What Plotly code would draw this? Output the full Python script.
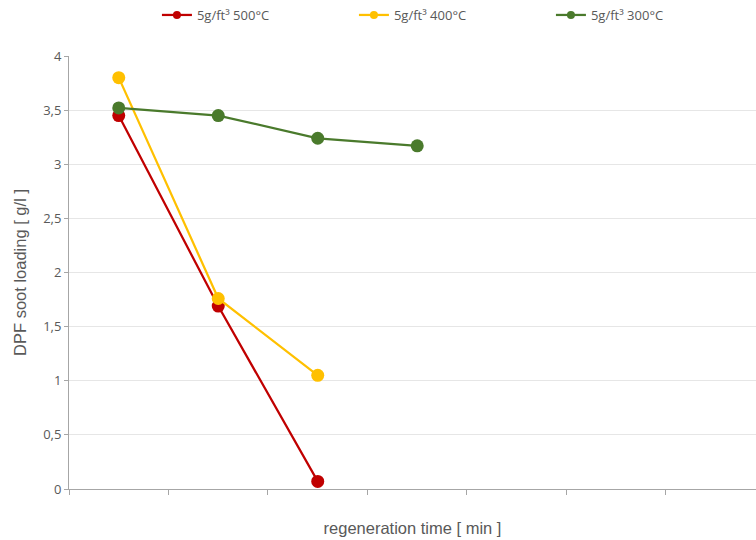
import plotly.graph_objects as go

# Soot loading measured at successive regeneration steps
steps = [0.5, 1.5, 2.5, 3.5]
soot_500 = [3.45, 1.69, 0.07]
soot_400 = [3.80, 1.76, 1.05]
soot_300 = [3.52, 3.45, 3.24, 3.17]

series = [
    ("5g/ft³ 500°C", soot_500, "#C00000"),
    ("5g/ft³ 400°C", soot_400, "#FFC000"),
    ("5g/ft³ 300°C", soot_300, "#4A7A2C"),
]

y_ticks = [0, 0.5, 1, 1.5, 2, 2.5, 3, 3.5, 4]
x_ticks = [0, 1, 2, 3, 4, 5, 6]

grey = "#595959"
font = "Open Sans, Noto Sans, sans-serif"
title_font = "Liberation Sans, Arial, sans-serif"

fig = go.Figure()
for name, vals, color in series:
    fig.add_trace(go.Scatter(
        x=steps[:len(vals)], y=vals, name=name, mode="lines+markers",
        line=dict(color=color, width=2.25),
        marker=dict(color=color, size=13),
        showlegend=False,
    ))
# legend entries with smaller symbols
for name, vals, color in series:
    fig.add_trace(go.Scatter(
        x=[None], y=[None], name=name, mode="lines+markers",
        line=dict(color=color, width=2.25),
        marker=dict(color=color, size=8),
        showlegend=True,
    ))

fig.update_layout(
    width=756, height=540,
    margin=dict(l=69, r=0, t=55, b=51),
    paper_bgcolor="white", plot_bgcolor="white",
    separators=",.",
    font=dict(family=font, color=grey, size=12),
    showlegend=True,
    legend=dict(
        orientation="h", x=0.128, xanchor="left", y=1.13, yanchor="top",
        entrywidth=152, entrywidthmode="pixels",
        font=dict(size=13, color=grey), itemwidth=30,
        traceorder="normal", bgcolor="rgba(0,0,0,0)",
    ),
    xaxis=dict(
        range=[0, 6.905], tickvals=x_ticks, showticklabels=False,
        ticks="outside", ticklen=5, tickcolor="#A6A6A6",
        showline=True, linecolor="#A6A6A6", linewidth=1,
        showgrid=False, zeroline=False,
        title=dict(text="regeneration time [ min ]", font=dict(family=title_font, size=16.5, color=grey), standoff=28),
    ),
    yaxis=dict(
        range=[0, 4], tickvals=y_ticks,
        ticks="outside", ticklen=4, tickcolor="#A6A6A6",
        showline=True, linecolor="#A6A6A6", linewidth=1,
        showgrid=True, gridcolor="#E6E6E6", gridwidth=1, zeroline=False,
        tickfont=dict(size=13, color=grey),
        title=dict(text="DPF soot loading [ g/l ]", font=dict(family=title_font, size=16.5, color=grey), standoff=12),
    ),
)

fig.write_html("out.html")
